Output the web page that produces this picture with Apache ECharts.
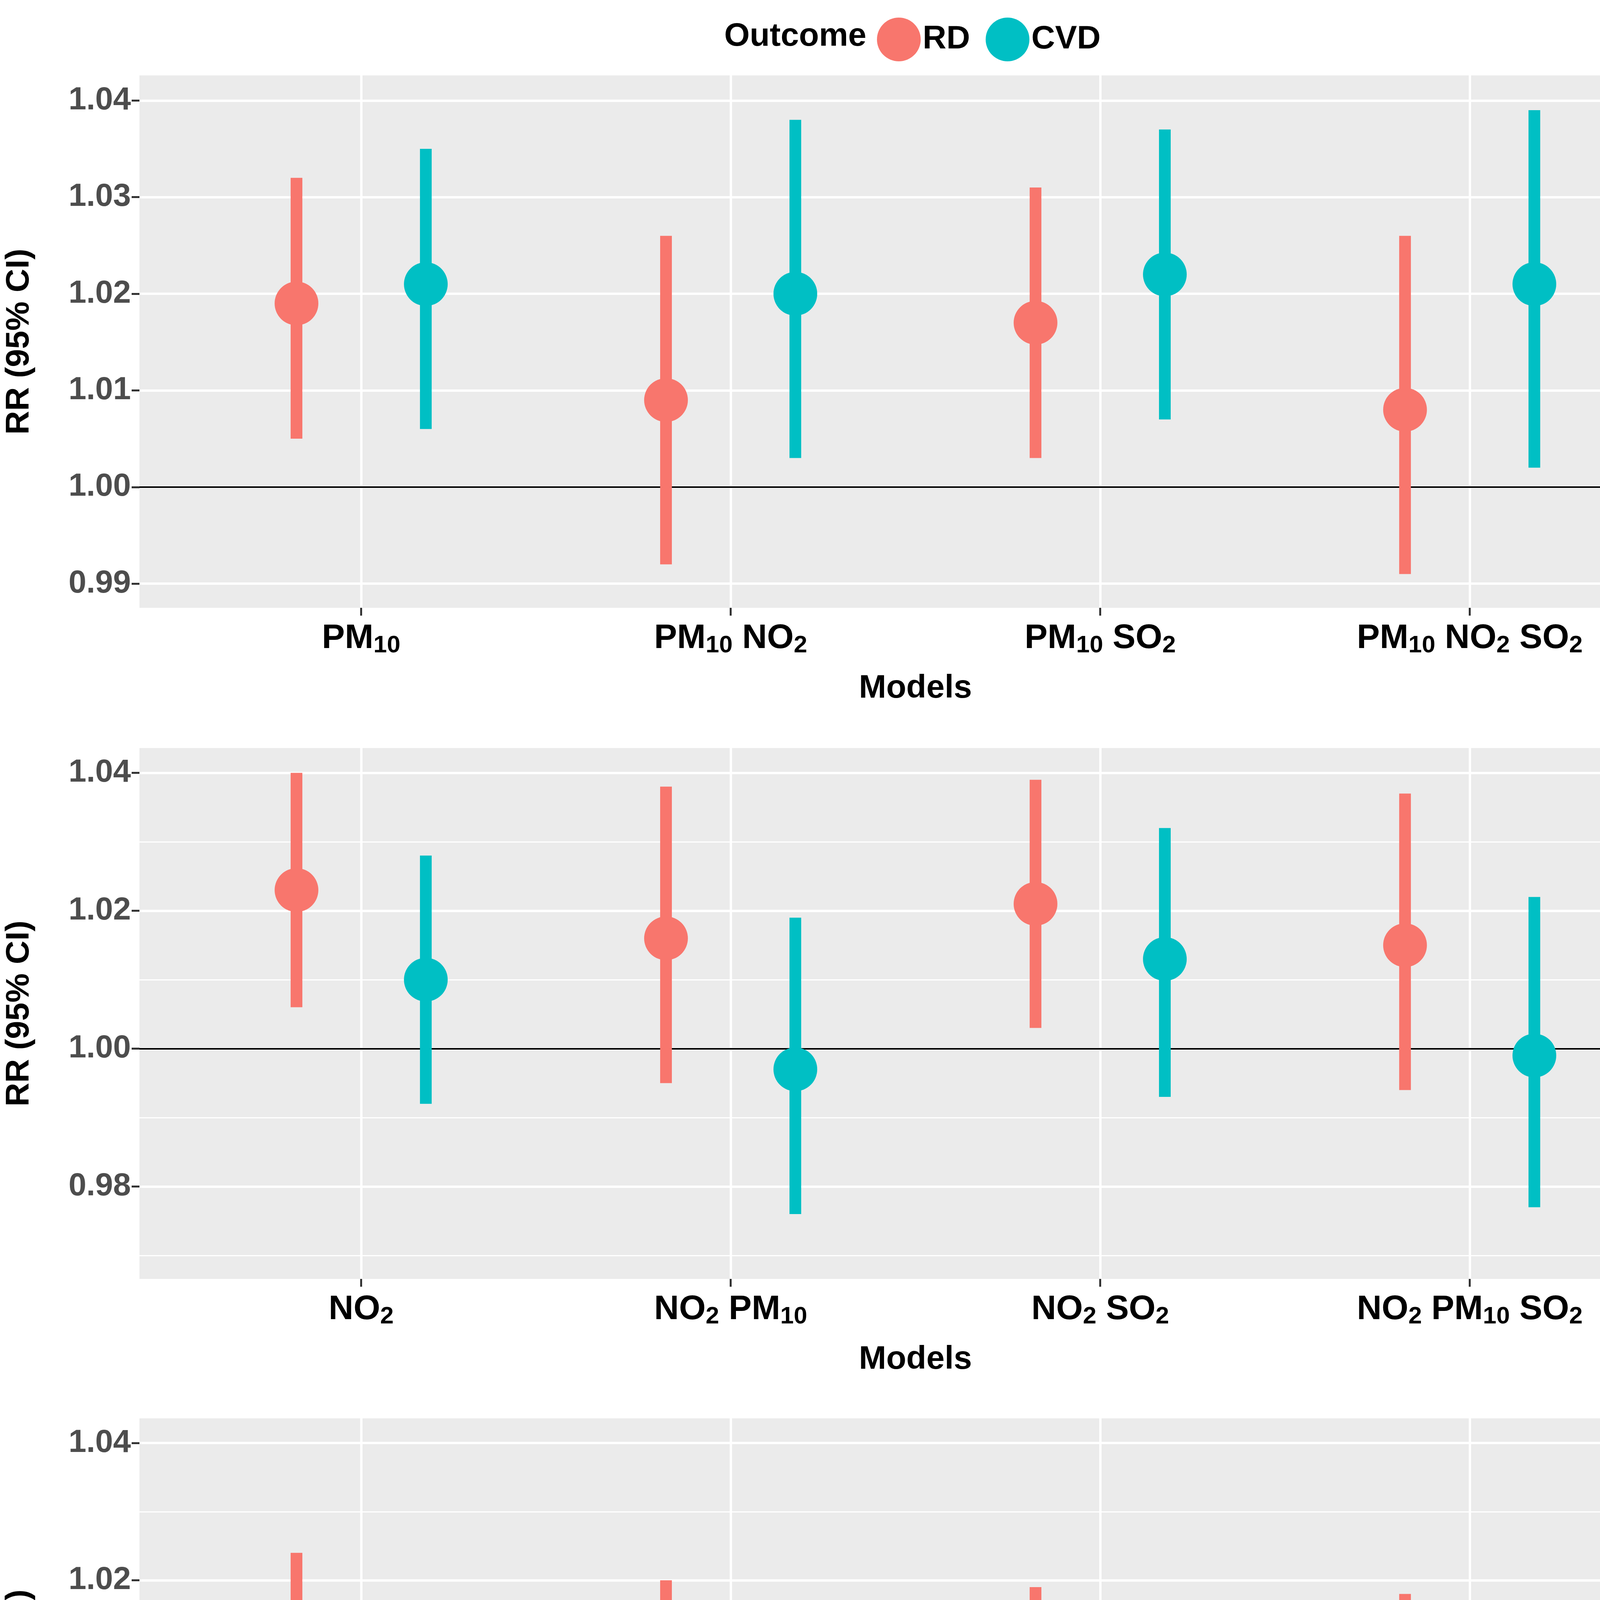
<!DOCTYPE html>
<html>
<head>
<meta charset="utf-8">
<script src="https://cdn.jsdelivr.net/npm/echarts@6/dist/echarts.min.js"></script>
<style>html,body{margin:0;padding:0;background:#fff}#main{width:4397px;height:5233px}</style>
</head>
<body>
<div id="main"></div>
<script>
// panel 1: PM10 models
var labels1 = ['PM10', 'PM10 NO2', 'PM10 SO2', 'PM10 NO2 SO2'];
var rdEst1 = [1.019, 1.009, 1.017, 1.008];
var rdLo1 = [1.005, 0.992, 1.003, 0.991];
var rdHi1 = [1.032, 1.026, 1.031, 1.026];
var cvdEst1 = [1.021, 1.020, 1.022, 1.021];
var cvdLo1 = [1.006, 1.003, 1.007, 1.002];
var cvdHi1 = [1.035, 1.038, 1.037, 1.039];
// panel 2: NO2 models
var labels2 = ['NO2', 'NO2 PM10', 'NO2 SO2', 'NO2 PM10 SO2'];
var rdEst2 = [1.023, 1.016, 1.021, 1.015];
var rdLo2 = [1.006, 0.995, 1.003, 0.994];
var rdHi2 = [1.040, 1.038, 1.039, 1.037];
var cvdEst2 = [1.010, 0.997, 1.013, 0.999];
var cvdLo2 = [0.992, 0.976, 0.993, 0.977];
var cvdHi2 = [1.028, 1.019, 1.032, 1.022];
// panel 3: SO2 models
var labels3 = ['SO2', 'SO2 PM10', 'SO2 NO2', 'SO2 PM10 NO2'];
var rdEst3 = [1.011, 1.006, 1.005, 1.003];
var rdLo3 = [0.998, 0.993, 0.991, 0.989];
var rdHi3 = [1.024, 1.020, 1.019, 1.018];
var cvdEst3 = [0.997, 0.993, 0.999, 0.996];
var cvdLo3 = [0.984, 0.979, 0.984, 0.981];
var cvdHi3 = [1.011, 1.007, 1.014, 1.011];

var yTicks1 = [0.99, 1.00, 1.01, 1.02, 1.03, 1.04];
var yMinor1 = [0.995, 1.005, 1.015, 1.025, 1.035];
var yTicks2 = [0.98, 1.00, 1.02, 1.04];
var yMinor2 = [0.97, 0.99, 1.01, 1.03];

var RD = '#F8766D', CVD = '#00BFC4';
var dodge = 0.175;

var panels = [
  {labels: labels1, rd: [rdEst1, rdLo1, rdHi1], cvd: [cvdEst1, cvdLo1, cvdHi1], top: 193, bottom: 1556, min: 0.9875, max: 1.0426, ticks: yTicks1, minor: yMinor1},
  {labels: labels2, rd: [rdEst2, rdLo2, rdHi2], cvd: [cvdEst2, cvdLo2, cvdHi2], top: 1915, bottom: 3274, min: 0.9666, max: 1.0436, ticks: yTicks2, minor: yMinor2},
  {labels: labels3, rd: [rdEst3, rdLo3, rdHi3], cvd: [cvdEst3, cvdLo3, cvdHi3], top: 3631, bottom: 4990, min: 0.9666, max: 1.0436, ticks: yTicks2, minor: yMinor2}
];

function richLabel(s) {
  return s.split(' ').map(function (t) {
    var m = t.match(/^([A-Z]+)(\d+)$/);
    return '{b|' + m[1] + '}{s|' + m[2] + '}';
  }).join('{b| }');
}

var grids = [], xAxes = [], yAxes = [], series = [];
panels.forEach(function (p, k) {
  grids.push({left: 350, right: 67, top: p.top, height: p.bottom - p.top, backgroundColor: '#EBEBEB', show: true, borderWidth: 0});
  xAxes.push({
    gridIndex: k, type: 'value', min: 0.4, max: 4.6,
    name: 'Models', nameLocation: 'middle', nameGap: 165,
    nameTextStyle: {fontSize: 84, fontWeight: 'bold', color: '#000', fontFamily: 'Liberation Sans'},
    axisLine: {show: false}, splitLine: {show: false},
    axisTick: {show: true, customValues: [1, 2, 3, 4], length: 20, lineStyle: {color: '#333', width: 5}},
    axisLabel: {
      customValues: [1, 2, 3, 4], margin: 30,
      formatter: function (v) { return richLabel(p.labels[Math.round(v) - 1]); },
      rich: {
        b: {fontSize: 88, fontWeight: 'bold', color: '#000', fontFamily: 'Liberation Sans'},
        s: {fontSize: 62, fontWeight: 'bold', color: '#000', fontFamily: 'Liberation Sans', padding: [36, 0, 0, 0]}
      }
    }
  });
  yAxes.push({
    gridIndex: k, type: 'value', min: p.min, max: p.max,
    name: 'RR (95% CI)', nameLocation: 'middle', nameGap: 265,
    nameTextStyle: {fontSize: 84, fontWeight: 'bold', color: '#000', fontFamily: 'Liberation Sans'},
    axisLine: {show: false}, splitLine: {show: false},
    axisTick: {show: true, customValues: p.ticks, length: 20, lineStyle: {color: '#333', width: 5}},
    axisLabel: {customValues: p.ticks, margin: 22, fontSize: 82, fontWeight: 'bold', color: '#4D4D4D', fontFamily: 'Liberation Sans',
      formatter: function (v) { return v.toFixed(2); }}
  });
  // gridlines
  var ml = [];
  p.minor.forEach(function (v) { ml.push({yAxis: v, lineStyle: {color: '#fff', width: 3, type: 'solid'}}); });
  p.ticks.forEach(function (v) { ml.push({yAxis: v, lineStyle: {color: '#fff', width: 6, type: 'solid'}}); });
  [1, 2, 3, 4].forEach(function (v) { ml.push({xAxis: v, lineStyle: {color: '#fff', width: 6, type: 'solid'}}); });
  ml.push({yAxis: 1.0, lineStyle: {color: '#000', width: 4, type: 'solid'}});
  series.push({type: 'line', xAxisIndex: k, yAxisIndex: k, data: [], silent: true, z: 0, zlevel: 0,
    markLine: {symbol: 'none', silent: true, z: 0, label: {show: false}, animation: false, data: ml}});
  [['RD', RD, p.rd, -dodge], ['CVD', CVD, p.cvd, dodge]].forEach(function (g) {
    var est = g[2][0], lo = g[2][1], hi = g[2][2];
    series.push({
      type: 'custom', name: g[0], xAxisIndex: k, yAxisIndex: k, z: 4,
      itemStyle: {color: g[1]},
      data: est.map(function (e, i) { return [i + 1 + g[3], lo[i], hi[i]]; }),
      renderItem: function (params, api) {
        var a = api.coord([api.value(0), api.value(1)]);
        var b = api.coord([api.value(0), api.value(2)]);
        return {type: 'line', shape: {x1: a[0], y1: a[1], x2: b[0], y2: b[1]}, style: {stroke: g[1], lineWidth: 30}};
      }
    });
    series.push({
      type: 'scatter', name: g[0], xAxisIndex: k, yAxisIndex: k, symbolSize: 112,
      itemStyle: {color: g[1], opacity: 1},
      data: est.map(function (e, i) { return [i + 1 + g[3], e]; }), z: 5
    });
  });
});

var chart = echarts.init(document.getElementById('main'));
chart.setOption({
  animation: false,
  backgroundColor: '#fff',
  graphic: [{type: 'text', right: 4397 - 2218, top: 52, style: {text: 'Outcome', fontSize: 84, fontWeight: 'bold', fill: '#000', fontFamily: 'Liberation Sans'}}],
  legend: {left: 2240, top: 40, icon: 'circle', itemWidth: 112, itemHeight: 112, itemGap: 40,
    data: [{name: 'RD', itemStyle: {color: RD}}, {name: 'CVD', itemStyle: {color: CVD}}],
    textStyle: {fontSize: 84, fontWeight: 'bold', color: '#000', fontFamily: 'Liberation Sans'}},
  grid: grids, xAxis: xAxes, yAxis: yAxes, series: series
});
</script>
</body>
</html>
